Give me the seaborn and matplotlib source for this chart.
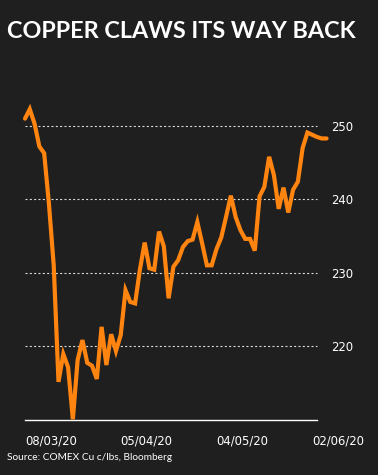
import matplotlib
matplotlib.use("Agg")
import matplotlib.pyplot as plt
import seaborn as sns
import pandas as pd

# ---- data ----
day_index = list(range(64))
copper_price = [
    251.0, 252.3, 250.3, 247.2, 246.3, 239.4, 231.0, 215.1, 218.9, 217.1,
    210.0, 218.1, 220.8, 217.7, 217.3, 215.5, 222.6, 217.4, 221.6, 219.3,
    221.5, 227.6, 226.0, 225.8, 230.4, 234.1, 230.6, 230.4, 235.6, 233.6,
    226.5, 230.8, 231.7, 233.5, 234.3, 234.5, 236.9, 234.0, 231.0, 231.0,
    233.2, 234.8, 237.6, 240.5, 237.6, 235.8, 234.6, 234.6, 233.0, 240.4,
    241.7, 245.8, 243.3, 238.7, 241.6, 238.2, 241.3, 242.4, 247.0, 249.1,
    248.8, 248.5, 248.3, 248.3,
]
x_tick_pos = [0, 20, 40, 60]
x_tick_labels = ["08/03/20", "05/04/20", "04/05/20", "02/06/20"]
y_ticks = [220, 230, 240, 250]
y_tick_labels = ["220", "230", "240", "250"]
title = "COPPER CLAWS ITS WAY BACK"
source = "Source: COMEX Cu c/lbs, Bloomberg"

BG = "#1f1f1f"
ORANGE = "#ff8410"
WHITE = "#ffffff"

sns.set_style("dark")
plt.rcParams["font.family"] = ["DejaVu Sans"]

df = pd.DataFrame({"day": day_index, "price": copper_price})

fig = plt.figure(figsize=(3.78, 4.75), dpi=100, facecolor=BG)
ax = fig.add_axes([25 / 378, 55 / 475, (317 - 25) / 378, (420 - 104) / 475])
ax.set_facecolor(BG)

for yv in y_ticks:
    ax.axhline(yv, color="#e0e0e0", lw=0.8, linestyle=(0, (1.8, 2.1)), zorder=1)

sns.lineplot(data=df, x="day", y="price", ax=ax, color=ORANGE, linewidth=3.0,
             zorder=3, clip_on=False)
for ln in ax.lines:
    ln.set_clip_on(False)
    ln.set_solid_joinstyle("miter")

ax.set_xlim(0, 61)
ax.set_ylim(209.9, 253.0)

ax.set_xticks(x_tick_pos)
ax.set_xticklabels(x_tick_labels, ha="left")
ax.yaxis.tick_right()
ax.set_yticks(y_ticks)
ax.set_yticklabels(y_tick_labels)
ax.tick_params(axis="x", colors=WHITE, length=3.6, width=1.0, direction="out",
               pad=7, labelsize=8.4)
ax.tick_params(axis="y", colors=WHITE, length=0, pad=10, labelsize=8.4)
ax.set_xlabel("")
ax.set_ylabel("")
ax.grid(False)

for s in ["top", "left", "right"]:
    ax.spines[s].set_visible(False)
ax.spines["bottom"].set_color(WHITE)
ax.spines["bottom"].set_linewidth(1.0)

fig.text(7 / 378, 1 - 37.7 / 475, title, color=WHITE, fontsize=16.8,
         family=["Lato", "DejaVu Sans"], weight="bold", va="baseline", ha="left")
fig.text(7 / 378, 1 - 460 / 475, source, color=WHITE, fontsize=7.3,
         family=["Lato", "DejaVu Sans"], va="baseline", ha="left")

fig.savefig("out.png", dpi=100, facecolor=BG)
